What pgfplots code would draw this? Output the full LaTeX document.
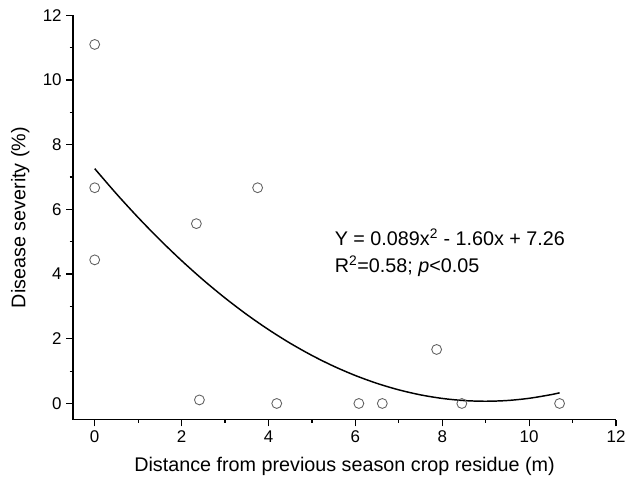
\documentclass[border=0pt]{standalone}
\usepackage{pgfplots}
\pgfplotsset{compat=1.18}
\usepackage{fontspec}
\setmainfont{Liberation Sans}
\begin{document}
\begin{tikzpicture}
\begin{axis}[
  scale only axis,
  width=407pt, height=303pt,
  xmin=-0.5, xmax=12, ymin=-0.5, ymax=12,
  axis x line*=bottom, axis y line*=left,
  axis line style={line width=0.9pt},
  xtick={0,2,...,12}, ytick={0,2,...,12},
  minor tick num=1,
  tick align=outside,
  major tick length=5pt, minor tick length=2.5pt,
  tick style={line width=0.9pt, black},
  /pgf/number format/assume math mode=true,
  ticklabel style={font=\fontsize{12.7}{14}\selectfont},
  xlabel={Distance from previous season crop residue (m)},
  ylabel={Disease severity (\%)},
  label style={font=\fontsize{14.8}{17}\selectfont},
  xlabel style={yshift=-4pt},
  ylabel style={yshift=3pt},
  clip=false,
]
\addplot[only marks, mark=o, mark size=3.7pt, mark options={draw=black!62, line width=0.65pt}] coordinates {
(0,11.1) (0,6.67) (0,4.44) (2.34,5.56) (2.41,0.11) (3.75,6.67)
(4.19,0) (6.08,0) (6.62,0) (7.87,1.67) (8.45,0) (10.7,0)
};
\addplot[black, line width=1.1pt, smooth] coordinates {
(0,7.260) (0.5,6.482) (1,5.749) (1.5,5.060) (2,4.416) (2.5,3.816)
(3,3.261) (3.5,2.750) (4,2.284) (4.5,1.862) (5,1.485) (5.5,1.152)
(6,0.864) (6.5,0.620) (7,0.421) (7.5,0.266) (8,0.156) (8.5,0.090)
(9,0.069) (9.5,0.092) (10,0.160) (10.5,0.272) (10.7,0.330)
};
\node[anchor=west, align=left, font=\fontsize{14.8}{20.5}\selectfont, inner sep=0pt] at (axis cs:5.52,4.67)
  {Y = 0.089x\textsuperscript{2} - 1.60x + 7.26\\R\textsuperscript{2}=0.58; \textit{p}<0.05};
\end{axis}
\pgfresetboundingbox
\path[use as bounding box] ([xshift=-54.7pt,yshift=-49.5pt]current axis.south west) rectangle ([xshift=6.7pt,yshift=11.5pt]current axis.north east);
\end{tikzpicture}
\end{document}
